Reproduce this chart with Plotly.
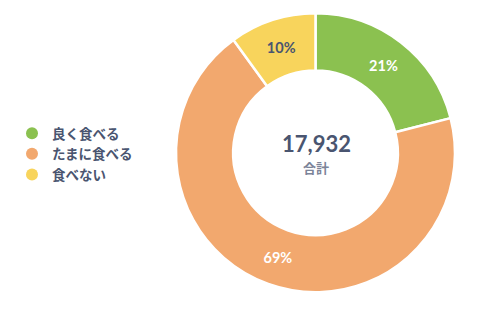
import plotly.graph_objects as go

categories = ["良く食べる", "たまに食べる", "食べない"]
values = [3766, 12373, 1793]
total_label = "17,932"
total_caption = "合計"
colors = ["#8BC150", "#F2A86E", "#F8D45C"]
text_colors = ["#ffffff", "#ffffff", "#4A5570"]

FONT = "Lato, 'Noto Sans CJK JP', sans-serif"

fig = go.Figure()
fig.add_trace(go.Pie(
    labels=categories, values=values, hole=0.59, sort=False,
    direction="clockwise", rotation=0,
    marker=dict(colors=colors, line=dict(color="#ffffff", width=2.5)),
    textinfo="percent", texttemplate="%{percent:.0%}",
    textposition="inside", insidetextorientation="horizontal",
    textfont=dict(family=FONT, size=14.5, color=text_colors, weight="bold"),
    showlegend=False,
    domain=dict(x=[0.352, 0.910], y=[0.072, 0.958]),
    hoverinfo="label+percent",
))
for c, col in zip(categories, colors):
    fig.add_trace(go.Scatter(
        x=[None], y=[None], mode="markers", name=c,
        marker=dict(symbol="circle", size=11, color=col),
    ))

fig.add_annotation(text=f"<b>{total_label}</b>", x=0.632, y=0.543, xref="paper", yref="paper",
                   showarrow=False, font=dict(family=FONT, size=22, color="#4A5570"))
fig.add_annotation(text=f"<b>{total_caption}</b>", x=0.632, y=0.467, xref="paper", yref="paper",
                   showarrow=False, font=dict(family=FONT, size=13, color="#7C8499"))

fig.update_layout(
    width=500, height=315, margin=dict(l=0, r=0, t=0, b=0),
    paper_bgcolor="white", plot_bgcolor="white",
    xaxis=dict(visible=False), yaxis=dict(visible=False),
    legend=dict(x=0.024, y=0.511, xanchor="left", yanchor="middle",
                font=dict(family=FONT, size=13.5, color="#4A5570", weight="bold"),
                itemsizing="constant", tracegroupgap=0, bgcolor="rgba(0,0,0,0)"),
)
fig.write_html("out.html")
